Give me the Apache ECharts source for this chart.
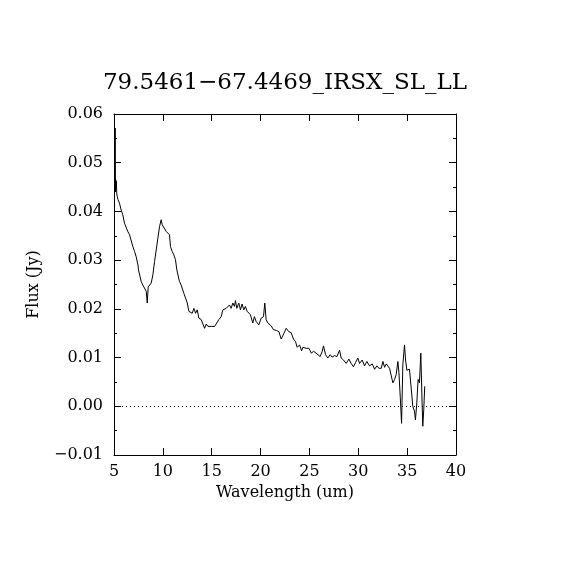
<!DOCTYPE html>
<html>
<head>
<meta charset="utf-8">
<script src="https://cdn.jsdelivr.net/npm/echarts@6/dist/echarts.min.js"></script>
<style>
  html, body { margin: 0; padding: 0; background: #fff; }
  #chart { width: 570px; height: 570px; }
</style>
</head>
<body>
<div id="chart"></div>
<script>
// spectrum
var wavelength = [5.06, 5.12, 5.15, 5.18, 5.21, 5.24, 5.28, 5.33, 5.40, 5.56, 5.73, 5.90, 6.07, 6.24, 6.41, 6.50,
    6.59, 6.76, 6.93, 7.10, 7.27, 7.37, 7.45, 7.51, 7.61, 7.78, 7.95, 8.12, 8.30, 8.40, 8.50, 8.64, 8.81, 8.98,
    9.15, 9.32, 9.49, 9.66, 9.83, 9.93, 10.07, 10.20, 10.34, 10.50, 10.68, 10.78, 10.95, 11.12, 11.29, 11.43,
    11.60, 11.70, 11.87, 12.04, 12.15, 12.32, 12.50, 12.66, 12.84, 13.00, 13.18, 13.35, 13.52, 13.68, 13.92,
    14.10, 14.27, 14.44, 14.61, 14.78, 14.95, 15.30, 15.46, 15.73, 15.97, 16.14, 16.31, 16.48, 16.65, 16.82,
    16.99, 17.16, 17.33, 17.43, 17.57, 17.77, 17.94, 18.11, 18.28, 18.45, 18.62, 18.79, 18.96, 19.13, 19.20,
    19.37, 19.55, 19.82, 20.06, 20.30, 20.43, 20.57, 20.74, 21.09, 21.33, 21.60, 21.88, 22.11, 22.40, 22.62,
    22.90, 23.13, 23.37, 23.57, 23.75, 23.99, 24.20, 24.33, 24.67, 24.95, 25.19, 25.43, 25.63, 25.87, 26.10,
    26.31, 26.44, 26.65, 26.88, 27.12, 27.33, 27.57, 27.81, 28.08, 28.25, 28.49, 28.76, 29.04, 29.27, 29.51,
    29.72, 29.96, 30.13, 30.40, 30.64, 30.88, 31.15, 31.43, 31.67, 31.90, 32.11, 32.35, 32.52, 32.69, 32.86,
    33.03, 33.20, 33.37, 33.54, 33.71, 33.88, 34.05, 34.16, 34.29, 34.43, 34.56, 34.73, 34.84, 34.97, 35.24,
    35.41, 35.58, 35.75, 35.85, 35.99, 36.12, 36.26, 36.40, 36.53, 36.60, 36.70, 36.80];
var flux = [0.0450, 0.0571, 0.0440, 0.0465, 0.0448, 0.0462, 0.0436, 0.0431, 0.0425, 0.0417, 0.0403, 0.0393, 0.0376,
    0.0373, 0.0359, 0.0362, 0.0352, 0.0355, 0.0328, 0.0318, 0.0307, 0.0310, 0.0290, 0.0280, 0.0276, 0.0256,
    0.0249, 0.0245, 0.0236, 0.0212, 0.0245, 0.0248, 0.0253, 0.0270, 0.0297, 0.0321, 0.0345, 0.0369, 0.0383,
    0.0373, 0.0368, 0.0370, 0.0359, 0.0357, 0.0352, 0.0328, 0.0318, 0.0311, 0.0301, 0.0280, 0.0277, 0.0256,
    0.0249, 0.0253, 0.0232, 0.0229, 0.0212, 0.0195, 0.0198, 0.0191, 0.0201, 0.0191, 0.0198, 0.0181, 0.0178,
    0.0174, 0.0160, 0.0169, 0.0164, 0.0167, 0.0164, 0.0164, 0.0167, 0.0178, 0.0184, 0.0198, 0.0195, 0.0201,
    0.0198, 0.0208, 0.0201, 0.0212, 0.0205, 0.0217, 0.0201, 0.0212, 0.0198, 0.0210, 0.0198, 0.0205, 0.0195,
    0.0198, 0.0188, 0.0191, 0.0171, 0.0184, 0.0174, 0.0167, 0.0181, 0.0184, 0.0212, 0.0178, 0.0171, 0.0165,
    0.0157, 0.0156, 0.0153, 0.0138, 0.0150, 0.0160, 0.0153, 0.0151, 0.0138, 0.0133, 0.0121, 0.0126, 0.0114,
    0.0121, 0.0119, 0.0119, 0.0109, 0.0113, 0.0109, 0.0106, 0.0102, 0.0113, 0.0124, 0.0106, 0.0099, 0.0106,
    0.0101, 0.0104, 0.0102, 0.0115, 0.0099, 0.0095, 0.0088, 0.0097, 0.0088, 0.0081, 0.0090, 0.0099, 0.0088,
    0.0095, 0.0083, 0.0092, 0.0083, 0.0087, 0.0076, 0.0083, 0.0078, 0.0078, 0.0092, 0.0080, 0.0087, 0.0083,
    0.0078, 0.0074, 0.0048, 0.0055, 0.0065, 0.0092, 0.0069, 0.0021, -0.0035, 0.0085, 0.0126, 0.0095, 0.0074,
    0.0076, 0.0074, 0.0000, -0.0010, -0.0028, 0.0007, 0.0055, 0.0048, 0.0109, 0.0007, -0.0041, -0.0007, 0.0041];

var xTicks = [5, 10, 15, 20, 25, 30, 35, 40];
var yTicks = [-0.01, 0.00, 0.01, 0.02, 0.03, 0.04, 0.05, 0.06];

var titleText = '79.5461\u221267.4469_IRSX_SL_LL';
var fontFam = 'DejaVu Serif';

var points = wavelength.map(function (w, i) { return [w, flux[i]]; });

function yLabel(v) {
    var s = Math.abs(v).toFixed(2);
    return v < -1e-9 ? '\u2212' + s : s;
}

var chart = echarts.init(document.getElementById('chart'));
var frameLine = { onZero: false, lineStyle: { color: '#000', width: 1 } };
var option = {
    backgroundColor: '#fff',
    animation: false,
    title: {
        text: titleText,
        left: 'center',
        top: 67,
        textStyle: { fontFamily: fontFam, fontSize: 23, fontWeight: 'normal', color: '#000' }
    },
    grid: { left: 114, right: 114, top: 114, bottom: 115 },
    xAxis: [
        {
            type: 'value', min: xTicks[0], max: xTicks[xTicks.length - 1], interval: 5,
            position: 'bottom',
            name: 'Wavelength (um)', nameLocation: 'middle', nameGap: 28,
            nameTextStyle: { fontFamily: fontFam, fontSize: 16, color: '#000' },
            axisLine: frameLine,
            axisTick: { inside: true, length: 7, lineStyle: { color: '#000' } },
            axisLabel: { fontFamily: fontFam, fontSize: 16, color: '#000', margin: 9 },
            splitLine: { show: false }
        },
        {
            type: 'value', min: xTicks[0], max: xTicks[xTicks.length - 1], interval: 5,
            position: 'top',
            axisLine: frameLine,
            axisTick: { inside: true, length: 7, lineStyle: { color: '#000' } },
            axisLabel: { show: false },
            splitLine: { show: false }
        }
    ],
    yAxis: [
        {
            type: 'value', min: yTicks[0], max: yTicks[yTicks.length - 1], interval: 0.01,
            position: 'left',
            name: 'Flux (Jy)', nameLocation: 'middle', nameGap: 72,
            nameTextStyle: { fontFamily: fontFam, fontSize: 16, color: '#000' },
            axisLine: frameLine,
            axisTick: { inside: true, length: 7, lineStyle: { color: '#000' } },
            minorTick: { show: true, splitNumber: 2, length: 3, lineStyle: { color: '#000' } },
            axisLabel: { fontFamily: fontFam, fontSize: 16, color: '#000', margin: 11, formatter: yLabel },
            splitLine: { show: false }
        },
        {
            type: 'value', min: yTicks[0], max: yTicks[yTicks.length - 1], interval: 0.01,
            position: 'right',
            axisLine: frameLine,
            axisTick: { inside: true, length: 7, lineStyle: { color: '#000' } },
            minorTick: { show: true, splitNumber: 2, length: 3, lineStyle: { color: '#000' } },
            axisLabel: { show: false },
            splitLine: { show: false }
        }
    ],
    series: [
        {
            type: 'line',
            data: points,
            showSymbol: false,
            clip: false,
            lineStyle: { color: '#000', width: 1 },
            markLine: {
                silent: true,
                symbol: 'none',
                label: { show: false },
                lineStyle: { color: '#000', width: 1, type: [1, 3] },
                data: [{ yAxis: 0 }]
            }
        }
    ]
};
chart.setOption(option);
</script>
</body>
</html>
